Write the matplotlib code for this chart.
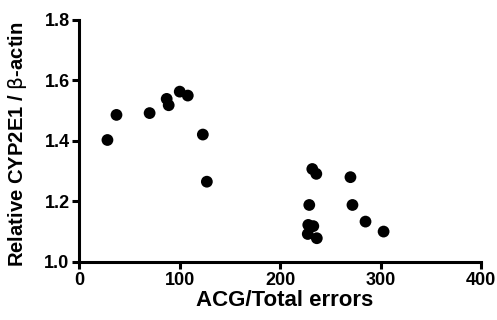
import matplotlib
matplotlib.use("Agg")
import matplotlib.pyplot as plt

plt.rcParams['font.family'] = ['Liberation Sans', 'DejaVu Sans']
plt.rcParams['mathtext.fontset'] = 'dejavusans'

# ACG/total errors vs relative CYP2E1 expression
acg_errors = [28, 37, 70, 87, 89, 100, 108, 123, 127,
              232, 236, 229, 228, 233, 227.5, 236.5, 270, 272, 285, 303]
cyp2e1 = [1.403, 1.486, 1.492, 1.539, 1.518, 1.563, 1.550, 1.421, 1.265,
          1.307, 1.291, 1.188, 1.122, 1.118, 1.092, 1.078, 1.280, 1.188, 1.133, 1.100]

x_ticks = [0, 100, 200, 300, 400]
y_ticks = [1.0, 1.2, 1.4, 1.6, 1.8]

fig = plt.figure(figsize=(4.97, 3.2), dpi=100)
ax = fig.add_axes([0.1596, 0.1819, 0.9678 - 0.1596, 0.9375 - 0.1819])

ax.scatter(acg_errors, cyp2e1, s=72, color='black', edgecolors='none', zorder=3, clip_on=False)

ax.set_xlim(0, 400)
ax.set_ylim(1.0, 1.8)
ax.set_xticks(x_ticks)
ax.set_yticks(y_ticks)
ax.set_xticklabels([str(t) for t in x_ticks])
ax.set_yticklabels([f"{t:.1f}" for t in y_ticks])

for side in ('top', 'right'):
    ax.spines[side].set_visible(False)
for side in ('left', 'bottom'):
    ax.spines[side].set_linewidth(2.2)
ax.tick_params(axis='both', which='major', length=5, width=2.2, direction='out',
               labelsize=13, pad=2)
for lbl in ax.get_xticklabels() + ax.get_yticklabels():
    lbl.set_fontweight('bold')

ax.set_xlabel('ACG/Total errors', fontsize=16, fontweight='bold')
ax.set_ylabel(r'Relative CYP2E1 / $\mathrm{\beta}$-actin', fontsize=14.6,
              fontweight='bold')
ax.xaxis.set_label_coords(0.512, -0.115)
ax.yaxis.set_label_coords(-0.125, 0.485)

fig.savefig('out.png', dpi=100)
